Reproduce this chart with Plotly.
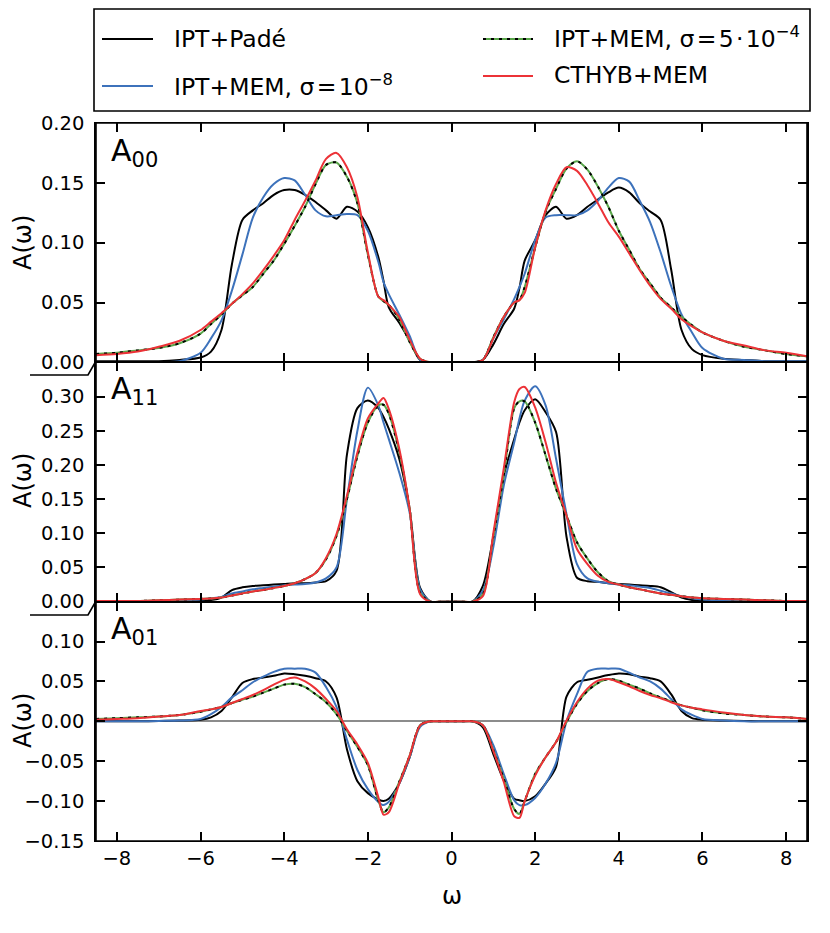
import plotly.graph_objects as go
from plotly.subplots import make_subplots

# ------------------------------------------------------------------
# Datos (eje de frecuencias ω común a todo)
# ------------------------------------------------------------------
omega = [-8.5, -8, -7.5, -7, -6.5, -6, -5.75, -5.5, -5.25, -5, -4.75, -4.5, -4.25, -4,
         -3.75, -3.5, -3.25, -3, -2.75, -2.5, -2.25, -2, -1.75, -1.625, -1.5, -1.25,
         -1, -0.75, -0.5, -0.25, 0, 0.25, 0.5, 0.75, 1, 1.25, 1.5, 1.625, 1.75, 2,
         2.25, 2.5, 2.75, 3, 3.25, 3.5, 3.75, 4, 4.25, 4.5, 4.75, 5, 5.25, 5.5, 5.75,
         6, 6.5, 7, 7.5, 8, 8.5]

# A00
a00_pade = [0.001, 0.001, 0.001, 0.001, 0.002, 0.004, 0.009, 0.027, 0.082, 0.119, 0.127, 0.133, 0.140, 0.144, 0.144,
            0.140, 0.134, 0.127, 0.120, 0.130, 0.126, 0.113, 0.088, 0.068, 0.046, 0.033, 0.018, 0.002, 0, 0,
            0,
            0, 0, 0.002, 0.015, 0.032, 0.045, 0.062, 0.085, 0.102, 0.123, 0.130, 0.120, 0.123, 0.130, 0.136,
            0.142, 0.146, 0.142, 0.133, 0.126, 0.119, 0.078, 0.027, 0.011, 0.006, 0.003, 0.002, 0.001, 0.001, 0.001]
a00_mem8 = [0, 0, 0, 0.0003, 0.001, 0.008, 0.020, 0.035, 0.060, 0.090, 0.121, 0.138, 0.149, 0.154, 0.152,
            0.140, 0.127, 0.122, 0.123, 0.124, 0.123, 0.110, 0.084, 0.067, 0.057, 0.040, 0.022, 0.002, 0, 0,
            0,
            0, 0, 0.002, 0.020, 0.036, 0.053, 0.063, 0.074, 0.102, 0.121, 0.123, 0.123, 0.123, 0.127, 0.135,
            0.146, 0.154, 0.151, 0.135, 0.117, 0.092, 0.064, 0.040, 0.025, 0.012, 0.003, 0.002, 0.001, 0.001, 0.001]
a00_mem4 = [0.007, 0.008, 0.010, 0.012, 0.016, 0.024, 0.032, 0.040, 0.049, 0.056, 0.063, 0.074, 0.085, 0.099, 0.114,
            0.130, 0.149, 0.165, 0.167, 0.155, 0.133, 0.090, 0.055, 0.051, 0.048, 0.036, 0.017, 0.003, 0, 0,
            0,
            0, 0, 0.002, 0.021, 0.038, 0.050, 0.052, 0.063, 0.096, 0.126, 0.145, 0.162, 0.168, 0.161, 0.147,
            0.130, 0.110, 0.094, 0.078, 0.066, 0.054, 0.046, 0.038, 0.031, 0.025, 0.018, 0.013, 0.010, 0.007, 0.005]
a00_cthyb = [0.006, 0.007, 0.009, 0.013, 0.018, 0.027, 0.034, 0.041, 0.049, 0.057, 0.066, 0.077, 0.089, 0.102, 0.119,
             0.135, 0.152, 0.170, 0.175, 0.163, 0.138, 0.092, 0.055, 0.052, 0.048, 0.038, 0.019, 0.003, 0, 0,
             0,
             0, 0, 0.002, 0.020, 0.038, 0.050, 0.052, 0.058, 0.096, 0.127, 0.149, 0.163, 0.160, 0.148, 0.133,
             0.117, 0.105, 0.091, 0.077, 0.064, 0.053, 0.045, 0.036, 0.030, 0.025, 0.018, 0.014, 0.010, 0.008, 0.005]

# A11
a11_pade = [0, 0, 0.0005, 0.001, 0.001, 0.002, 0.0025, 0.006, 0.017, 0.021, 0.023, 0.024, 0.025, 0.026, 0.027,
            0.027, 0.028, 0.030, 0.045, 0.215, 0.283, 0.294, 0.283, 0.270, 0.253, 0.209, 0.135, 0.020, 0, 0,
            0,
            0, 0, 0.023, 0.095, 0.184, 0.238, 0.262, 0.280, 0.296, 0.277, 0.248, 0.095, 0.035, 0.030, 0.029,
            0.027, 0.026, 0.025, 0.024, 0.023, 0.021, 0.014, 0.006, 0.0025, 0.001, 0.001, 0.0005, 0, 0, 0]
a11_mem8 = [0, 0, 0, 0.001, 0.002, 0.003, 0.005, 0.007, 0.012, 0.015, 0.018, 0.020, 0.022, 0.024, 0.025,
            0.026, 0.028, 0.034, 0.050, 0.150, 0.250, 0.313, 0.287, 0.262, 0.238, 0.189, 0.130, 0.018, 0, 0,
            0,
            0, 0, 0.016, 0.080, 0.170, 0.233, 0.268, 0.294, 0.315, 0.287, 0.209, 0.128, 0.055, 0.034, 0.029,
            0.027, 0.025, 0.024, 0.022, 0.020, 0.016, 0.012, 0.008, 0.005, 0.003, 0.002, 0.001, 0.0005, 0, 0]
a11_mem4 = [0.001, 0.001, 0.001, 0.002, 0.003, 0.004, 0.0045, 0.006, 0.009, 0.012, 0.015, 0.017, 0.020, 0.023, 0.027,
            0.033, 0.042, 0.062, 0.096, 0.150, 0.213, 0.262, 0.287, 0.288, 0.275, 0.219, 0.135, 0.013, 0, 0,
            0,
            0, 0, 0.011, 0.095, 0.185, 0.283, 0.293, 0.293, 0.262, 0.214, 0.165, 0.126, 0.087, 0.063, 0.043,
            0.030, 0.025, 0.021, 0.018, 0.015, 0.012, 0.010, 0.008, 0.006, 0.005, 0.004, 0.003, 0.002, 0.001, 0.001]
a11_cthyb = [0.001, 0.001, 0.001, 0.002, 0.003, 0.004, 0.0045, 0.006, 0.009, 0.012, 0.015, 0.017, 0.020, 0.023, 0.027,
             0.033, 0.042, 0.064, 0.099, 0.155, 0.218, 0.268, 0.290, 0.298, 0.282, 0.224, 0.135, 0.011, 0, 0,
             0,
             0, 0, 0.008, 0.100, 0.195, 0.292, 0.311, 0.314, 0.284, 0.233, 0.174, 0.126, 0.077, 0.055, 0.038,
             0.029, 0.025, 0.021, 0.018, 0.015, 0.012, 0.010, 0.008, 0.006, 0.005, 0.004, 0.003, 0.002, 0.001, 0.001]

# A01
a01_pade = [0, 0, 0, 0.0005, 0.001, 0.002, 0.005, 0.013, 0.030, 0.048, 0.053, 0.055, 0.057, 0.060, 0.059,
            0.057, 0.054, 0.050, 0.030, -0.035, -0.075, -0.090, -0.098, -0.100, -0.097, -0.078, -0.045, -0.005, 0, 0,
            0,
            0, 0, -0.0075, -0.041, -0.074, -0.097, -0.099, -0.100, -0.094, -0.078, -0.057, 0.031, 0.049, 0.052, 0.055,
            0.058, 0.060, 0.059, 0.056, 0.054, 0.050, 0.034, 0.013, 0.004, 0.002, 0.001, 0.0005, 0, 0, 0]
a01_mem8 = [0, 0, 0, 0.0005, 0.001, 0.003, 0.009, 0.018, 0.030, 0.039, 0.049, 0.056, 0.062, 0.066, 0.066,
            0.066, 0.061, 0.043, 0.018, -0.023, -0.061, -0.085, -0.101, -0.105, -0.101, -0.078, -0.045, -0.007, 0, 0,
            0,
            0, 0, -0.005, -0.030, -0.066, -0.099, -0.105, -0.105, -0.096, -0.078, -0.052, 0.000, 0.034, 0.062, 0.066,
            0.066, 0.066, 0.061, 0.055, 0.050, 0.041, 0.028, 0.015, 0.008, 0.003, 0.001, 0, 0, 0, 0]
a01_mem4 = [0.003, 0.004, 0.005, 0.006, 0.008, 0.012, 0.015, 0.018, 0.023, 0.027, 0.031, 0.036, 0.041, 0.046, 0.047,
            0.043, 0.034, 0.024, 0.009, -0.012, -0.032, -0.055, -0.099, -0.114, -0.108, -0.076, -0.043, -0.005, 0, 0,
            0,
            0, 0, -0.005, -0.036, -0.072, -0.110, -0.116, -0.100, -0.066, -0.045, -0.026, -0.001, 0.022, 0.038, 0.048,
            0.053, 0.051, 0.046, 0.041, 0.035, 0.030, 0.025, 0.020, 0.017, 0.014, 0.010, 0.008, 0.006, 0.005, 0.003]
a01_cthyb = [0.002, 0.003, 0.004, 0.006, 0.008, 0.013, 0.015, 0.018, 0.023, 0.028, 0.033, 0.039, 0.046, 0.052, 0.055,
             0.050, 0.041, 0.028, 0.013, -0.010, -0.029, -0.052, -0.095, -0.117, -0.114, -0.078, -0.043, -0.005, 0, 0,
             0,
             0, 0, -0.005, -0.037, -0.076, -0.119, -0.121, -0.100, -0.068, -0.045, -0.026, 0.001, 0.024, 0.041, 0.051,
             0.053, 0.049, 0.044, 0.038, 0.033, 0.029, 0.024, 0.020, 0.017, 0.015, 0.011, 0.008, 0.006, 0.005, 0.003]

x_ticks = [-8, -6, -4, -2, 0, 2, 4, 6, 8]
y_ticks = [
    [0.0, 0.05, 0.10, 0.15, 0.20],
    [0.0, 0.05, 0.10, 0.15, 0.20, 0.25, 0.30],
    [-0.15, -0.10, -0.05, 0.0, 0.05, 0.10],
]
y_ranges = [[0, 0.20], [0, 0.35], [-0.15, 0.15]]
panel_names = ["00", "11", "01"]

NEGRO = "black"
AZUL = "#3d72bb"
VERDE = "#5aa64b"
ROJO = "#ec3237"
FUENTE = "DejaVu Sans"

# la página deja 8 px de margen: la figura se reduce y se desplaza para compensar
OFF = 8
W, H = 830 - OFF, 933 - OFF
ML, MR, MT, MB = 96 - OFF, 23, 123 - OFF, 92
PW, PH = W - ML - MR, H - MT - MB


def px_x(px):
    # píxel de la imagen de referencia -> coordenada "paper"
    return (px - OFF - ML) / PW


def px_y(py):
    return (MT + PH - (py - OFF)) / PH


fig = make_subplots(rows=3, cols=1, shared_xaxes=True, vertical_spacing=0)

series = [
    (a00_pade, a00_mem8, a00_mem4, a00_cthyb),
    (a11_pade, a11_mem8, a11_mem4, a11_cthyb),
    (a01_pade, a01_mem8, a01_mem4, a01_cthyb),
]

for i, (pade, mem8, mem4, cthyb) in enumerate(series):
    fila = i + 1
    linea = dict(shape="spline", smoothing=0.8, width=2)
    fig.add_trace(go.Scatter(x=omega, y=pade, mode="lines", line=dict(color=NEGRO, **linea),
                             showlegend=False), row=fila, col=1)
    fig.add_trace(go.Scatter(x=omega, y=mem8, mode="lines", line=dict(color=AZUL, **linea),
                             showlegend=False), row=fila, col=1)
    fig.add_trace(go.Scatter(x=omega, y=mem4, mode="lines", line=dict(color=VERDE, **linea),
                             showlegend=False), row=fila, col=1)
    fig.add_trace(go.Scatter(x=omega, y=mem4, mode="lines",
                             line=dict(color=NEGRO, dash="3px,5px", **linea),
                             showlegend=False), row=fila, col=1)
    fig.add_trace(go.Scatter(x=omega, y=cthyb, mode="lines", line=dict(color=ROJO, **linea),
                             showlegend=False), row=fila, col=1)

    ejes = dict(ticks="inside", ticklen=9, tickwidth=1.5, tickcolor="black",
                showline=True, linecolor="black", mirror="ticks",
                showgrid=False, tickfont=dict(size=19.5, family=FUENTE, color="black"))
    # líneas x finas: en las uniones entre paneles se juntan dos
    fig.update_xaxes(range=[-8.5, 8.5], tickvals=x_ticks, zeroline=False, linewidth=1,
                     row=fila, col=1, **ejes)
    fig.update_yaxes(range=y_ranges[i], tickvals=y_ticks[i], tickformat=".2f",
                     ticklabelstandoff=6, linewidth=1.6, row=fila, col=1,
                     zeroline=(i == 2), zerolinecolor="#8c8c8c", zerolinewidth=2, **ejes)

anotaciones = []
formas = []

# marco exterior de los tres paneles
formas.append(dict(type="rect", xref="paper", yref="paper", x0=0, x1=1, y0=0, y1=1,
                   line=dict(color="black", width=1.6), layer="above"))

# etiquetas de panel y títulos de eje y
tops = [123, 361, 601]
for i, nombre in enumerate(panel_names):
    anotaciones.append(dict(text="A<sub>%s</sub>" % nombre, x=px_x(109), y=px_y(tops[i] + 8),
                            xref="paper", yref="paper", xanchor="left", yanchor="top",
                            showarrow=False, font=dict(size=30, family=FUENTE, color="black")))
    anotaciones.append(dict(text="A(ω)", x=px_x(23), y=px_y(tops[i] + 120),
                            xref="paper", yref="paper", xanchor="center", yanchor="middle",
                            textangle=-90, showarrow=False,
                            font=dict(size=24, family=FUENTE, color="black")))

anotaciones.append(dict(text="ω", x=px_x(452), y=px_y(896), xref="paper", yref="paper",
                        xanchor="center", yanchor="middle", showarrow=False,
                        font=dict(size=24, family=FUENTE, color="black")))

# marcas de corte en el eje izquierdo
for yb in (361, 601):
    formas.append(dict(type="path", xref="paper", yref="paper",
                       path="M %f,%f L %f,%f L %f,%f" % (px_x(30), px_y(yb + 14), px_x(88), px_y(yb + 14),
                                                         px_x(96), px_y(yb)),
                       line=dict(color="black", width=1.6)))

# leyenda dibujada a mano (dos columnas)
formas.append(dict(type="rect", xref="paper", yref="paper", x0=px_x(94), x1=px_x(810),
                   y0=px_y(111), y1=px_y(9), line=dict(color="black", width=1.6)))
HS = "\u200a"  # espacio fino, como en el texto matemático del original
entradas = [
    ("IPT+Padé", [NEGRO], 102, 153, 39, 172, 49),
    ("IPT+MEM, σ" + HS + "=" + HS + "10<sup>−8</sup>", [AZUL], 102, 153, 86, 172, 97),
    ("IPT+MEM, σ" + HS + "=" + HS + "5" + HS + "·" + HS + "10<sup>−4</sup>", [VERDE, "dots"],
     483, 533, 39, 552, 49),
    ("CTHYB+MEM", [ROJO], 483, 533, 76, 552, 85),
]
for texto, colores, x0, x1, yl, xt, base in entradas:
    formas.append(dict(type="line", xref="paper", yref="paper", x0=px_x(x0), x1=px_x(x1),
                       y0=px_y(yl), y1=px_y(yl), line=dict(color=colores[0], width=2)))
    if "dots" in colores:
        formas.append(dict(type="line", xref="paper", yref="paper", x0=px_x(x0), x1=px_x(x1),
                           y0=px_y(yl), y1=px_y(yl), line=dict(color=NEGRO, width=2, dash="3px,5px")))
    anotaciones.append(dict(text=texto, x=px_x(xt), y=px_y(base + 6), xref="paper", yref="paper",
                            xanchor="left", yanchor="bottom", showarrow=False,
                            font=dict(size=23.5, family=FUENTE, color="black")))

fig.update_layout(
    width=W, height=H,
    margin=dict(l=ML, r=MR, t=MT, b=MB),
    plot_bgcolor="white", paper_bgcolor="white",
    font=dict(family=FUENTE, color="black"),
    showlegend=False,
    annotations=anotaciones,
    shapes=formas,
)

fig.write_html("out.html")
